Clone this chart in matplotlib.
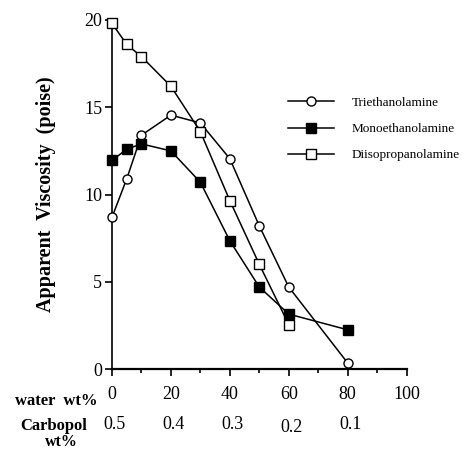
import numpy as np
import matplotlib
matplotlib.use('Agg')
import matplotlib.pyplot as plt

# Data
# ----------------------------------------------------------------------------------------------
water_tea = [0, 5, 10, 20, 30, 40, 50, 60, 80]
visc_tea = [8.7, 10.9, 13.4, 14.55, 14.1, 12.05, 8.2, 4.7, 0.35]

water_mea = [0, 5, 10, 20, 30, 40, 50, 60, 80]
visc_mea = [11.95, 12.6, 12.9, 12.5, 10.7, 7.35, 4.7, 3.15, 2.25]

water_dipa = [0, 5, 10, 20, 30, 40, 50, 60]
visc_dipa = [19.8, 18.6, 17.9, 16.2, 13.6, 9.65, 6.0, 2.55]

water_ticks = [0, 20, 40, 60, 80, 100]
carbopol_ticks = [0, 20, 40, 60, 80]
carbopol_labels = ['0.5', '0.4', '0.3', '0.2', '0.1']
visc_ticks = [0, 5, 10, 15, 20]

plt.rcParams['font.family'] = ['Liberation Serif', 'DejaVu Serif']

fig = plt.figure(figsize=(4.65, 4.49), dpi=100)
ax = fig.add_axes([0.2409, 0.178, 0.6335, 0.7775])

ms = 6.5
ax.plot(water_tea, visc_tea, '-o', color='black', mfc='white', mec='black',
        ms=ms, lw=1.1, label='Triethanolamine', clip_on=False, zorder=3)
ax.plot(water_mea, visc_mea, '-s', color='black', mfc='black', mec='black',
        ms=ms, lw=1.1, label='Monoethanolamine', clip_on=False, zorder=3)
ax.plot(water_dipa, visc_dipa, '-s', color='black', mfc='white', mec='black',
        ms=ms, lw=1.1, label='Diisopropanolamine', clip_on=False, zorder=3)

ax.set_xlim(0, 100)
ax.set_ylim(0, 20)
ax.spines['top'].set_visible(False)
ax.spines['right'].set_visible(False)
ax.spines['left'].set_linewidth(1.2)
ax.spines['bottom'].set_linewidth(1.6)

ax.set_xticks(water_ticks)
ax.set_xticks(np.arange(10, 100, 20), minor=True)
ax.set_yticks(visc_ticks)
ax.tick_params(axis='x', which='major', direction='out', length=5, width=1.2,
               labelsize=13, pad=7)
ax.tick_params(axis='x', which='minor', direction='out', length=3, width=1.2)
ax.tick_params(axis='y', which='major', direction='out', length=5, width=1.2,
               labelsize=13, pad=2)

ax.set_ylabel('Apparent  Viscosity  (poise)', fontsize=14.5, fontweight='bold',
              labelpad=20)

# second row of x labels: Carbopol wt%
for xv, lab in zip(carbopol_ticks, carbopol_labels):
    dy = -2 if lab == '0.2' else 0
    ax.annotate(lab, xy=(xv, 0), xycoords=('data', 'axes fraction'),
                xytext=(2, -40 + dy), textcoords='offset points',
                ha='center', va='center', fontsize=13)

fig.text(0.12, 0.107, 'water  wt%', ha='center', va='center',
         fontsize=12, fontweight='bold')
fig.text(0.115, 0.052, 'Carbopol', ha='center', va='center',
         fontsize=12, fontweight='bold')
fig.text(0.131, 0.016, 'wt%', ha='center', va='center',
         fontsize=11.5, fontweight='bold')

ax.legend(loc='upper left', bbox_to_anchor=(0.58, 0.795), frameon=False,
          fontsize=9.5, handlelength=3.5, handletextpad=1.3, labelspacing=1.05,
          borderaxespad=0)

fig.savefig('out.png', dpi=100)
